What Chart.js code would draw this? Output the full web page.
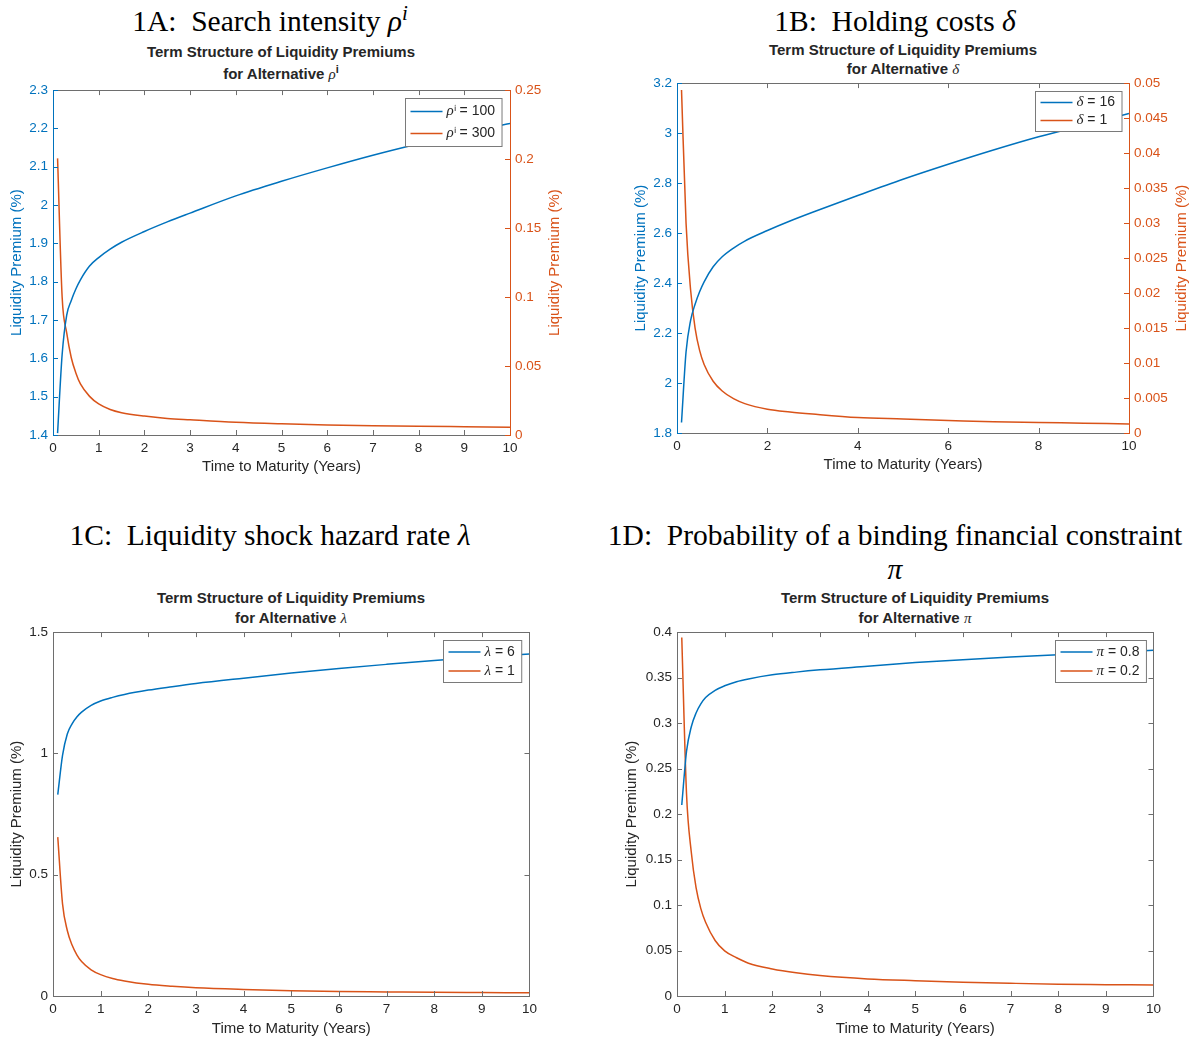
<!DOCTYPE html>
<html lang="en">
<head>
<meta charset="UTF-8">
<title>Term Structure of Liquidity Premiums</title>
<script src="https://cdn.jsdelivr.net/npm/chart.js@4"></script>
<style>
  body { margin: 0; width: 1196px; height: 1040px; position: relative; background: #fff; overflow: hidden;
         font-family: "Liberation Sans", Arial, sans-serif; }
  canvas { position: absolute; }
  .head { position: absolute; font-family: "Liberation Serif", "Times New Roman", serif; font-size: 29.5px;
          line-height: 34px; text-align: center; color: #000; white-space: nowrap; }
  .sub { position: absolute; width: 320px; font-weight: bold; font-size: 15px; text-align: center; color: #262626; white-space: nowrap; }
  .sym { font-family: "Liberation Serif", "Times New Roman", serif; font-style: italic; font-weight: normal; }
  .up { position: relative; font-size: 11px; top: -6px; }
</style>
</head>
<body>
  <!-- panel headings -->
  <div class="head" style="left:0; top:4px; width:540px">1A:&nbsp; Search intensity <i>ρ</i><i style="position:relative; top:-11px; font-size:21px">i</i></div>
  <div class="head" style="left:595px; top:4px; width:600px">1B:&nbsp; Holding costs <i>δ</i></div>
  <div class="head" style="left:0; top:518px; width:540px">1C:&nbsp; Liquidity shock hazard rate <i>λ</i></div>
  <div class="head" style="left:595px; top:518px; width:600px">1D:&nbsp; Probability of a binding financial constraint<br><i>π</i></div>

  <!-- chart titles -->
  <div class="sub" style="left:121px; top:41px; line-height:22px">Term Structure of Liquidity Premiums<br>for Alternative <span class="sym">ρ</span><span class="up">i</span></div>
  <div class="sub" style="left:743px; top:40px; line-height:19px">Term Structure of Liquidity Premiums<br>for Alternative <span class="sym">δ</span></div>
  <div class="sub" style="left:131px; top:588px; line-height:20px">Term Structure of Liquidity Premiums<br>for Alternative <span class="sym">λ</span></div>
  <div class="sub" style="left:755px; top:588px; line-height:20px">Term Structure of Liquidity Premiums<br>for Alternative <span class="sym">π</span></div>

  <canvas id="chartA" width="570" height="403" style="left:0; top:77px"></canvas>
  <canvas id="chartB" width="569" height="408" style="left:625px; top:70px"></canvas>
  <canvas id="chartC" width="542" height="421" style="left:0; top:619px"></canvas>
  <canvas id="chartD" width="551" height="421" style="left:615px; top:619px"></canvas>

<script>
// time to maturity (years), shared by every curve
const years = [0.1, 0.2, 0.3, 0.4, 0.5, 0.6, 0.8, 1, 1.25, 1.5, 2, 2.5, 3, 4, 5, 6, 7, 8, 9, 10];

// 1A: search intensity
const rho100 = [1.405, 1.61, 1.713, 1.751, 1.781, 1.805, 1.841, 1.863, 1.885, 1.903, 1.931, 1.956, 1.979, 2.024, 2.062, 2.097, 2.13, 2.16, 2.188, 2.213];
const rho300 = [0.2005, 0.100, 0.074, 0.056, 0.045, 0.037, 0.028, 0.0225, 0.0185, 0.0162, 0.0137, 0.012, 0.011, 0.0092, 0.0081, 0.0073, 0.0067, 0.0063, 0.006, 0.0057];

// 1B: holding costs
const delta16 = [1.842, 2.124, 2.25, 2.315, 2.365, 2.405, 2.465, 2.505, 2.54, 2.568, 2.61, 2.648, 2.683, 2.75, 2.815, 2.875, 2.932, 2.985, 3.032, 3.078];
const delta1 = [0.049, 0.030, 0.0205, 0.015, 0.0118, 0.0098, 0.0074, 0.006, 0.0049, 0.0042, 0.0034, 0.003, 0.0027, 0.0022, 0.002, 0.0018, 0.0016, 0.0015, 0.0014, 0.0013];

// 1C: liquidity shock hazard rate
const lambda6 = [0.83, 0.992, 1.08, 1.122, 1.15, 1.17, 1.198, 1.216, 1.231, 1.243, 1.261, 1.275, 1.288, 1.31, 1.331, 1.35, 1.367, 1.383, 1.397, 1.41];
const lambda1 = [0.655, 0.38, 0.27, 0.21, 0.17, 0.142, 0.108, 0.088, 0.072, 0.062, 0.048, 0.04, 0.034, 0.027, 0.022, 0.019, 0.017, 0.015, 0.014, 0.013];

// 1D: probability of a binding financial constraint
const pi08 = [0.21, 0.269, 0.296, 0.311, 0.321, 0.328, 0.336, 0.341, 0.3455, 0.3485, 0.353, 0.356, 0.3585, 0.3625, 0.3665, 0.3697, 0.3725, 0.375, 0.3775, 0.380];
const pi02 = [0.394, 0.222, 0.158, 0.119, 0.096, 0.081, 0.061, 0.0496, 0.042, 0.036, 0.0297, 0.0255, 0.0225, 0.0188, 0.0168, 0.0152, 0.014, 0.013, 0.0125, 0.012];

const blue = '#0072BD';
const orange = '#D95319';
const ink = '#262626';
const sans = '"Liberation Sans", Arial, sans-serif';

const pts = (ys) => years.map((x, i) => ({ x: x, y: ys[i] }));

// matlab style frame with inward ticks, plus the right axis title read bottom to top
const boxTicks = {
    id: 'boxTicks',
    afterDatasetsDraw(chart, args, opts) {
        const { ctx, chartArea: a, scales } = chart;
        const len = 5;
        const yl = scales.y;
        const yr = scales.y2 || scales.y;
        const line = (x1, y1, x2, y2) => { ctx.moveTo(x1, y1); ctx.lineTo(x2, y2); };
        ctx.save();
        ctx.lineWidth = 1;

        ctx.strokeStyle = opts.frame;
        ctx.beginPath();
        scales.x.ticks.forEach((t, i) => {
            const px = Math.round(scales.x.getPixelForTick(i)) + 0.5;
            line(px, a.bottom, px, a.bottom - len);
            line(px, a.top, px, a.top + len);
        });
        line(a.left, Math.round(a.top) + 0.5, a.right, Math.round(a.top) + 0.5);
        line(a.left, Math.round(a.bottom) + 0.5, a.right, Math.round(a.bottom) + 0.5);
        ctx.stroke();

        ctx.strokeStyle = opts.left;
        ctx.beginPath();
        yl.ticks.forEach((t, i) => {
            const py = Math.round(yl.getPixelForTick(i)) + 0.5;
            line(a.left, py, a.left + len, py);
        });
        line(Math.round(a.left) + 0.5, a.top, Math.round(a.left) + 0.5, a.bottom + 1);
        ctx.stroke();

        ctx.strokeStyle = opts.right;
        ctx.beginPath();
        yr.ticks.forEach((t, i) => {
            const py = Math.round(yr.getPixelForTick(i)) + 0.5;
            line(a.right, py, a.right - len, py);
        });
        line(Math.round(a.right) + 0.5, a.top, Math.round(a.right) + 0.5, a.bottom + 1);
        ctx.stroke();

        if (opts.rightTitle) {
            ctx.translate(chart.width - opts.rightPad - 9, (a.top + a.bottom) / 2);
            ctx.rotate(-Math.PI / 2);
            ctx.font = '15px ' + sans;
            ctx.fillStyle = opts.right;
            ctx.textAlign = 'center';
            ctx.textBaseline = 'middle';
            ctx.fillText(opts.rightTitle, 0, 0);
        }
        ctx.restore();
    }
};

// boxed legend inside the top right corner of the plot
const boxLegend = {
    id: 'boxLegend',
    afterDraw(chart, args, opts) {
        const { ctx, chartArea: a } = chart;
        const sets = chart.data.datasets;
        const rowH = opts.rowH, pad = 5, lineW = 32, gap = 4;
        const symFont = 'italic 15px "Liberation Serif", serif';
        const txtFont = '14px ' + sans;
        ctx.save();
        let textW = 0;
        sets.forEach(d => {
            ctx.font = symFont;
            let w = ctx.measureText(d.label[0]).width;
            ctx.font = txtFont;
            w += ctx.measureText(d.label.slice(1)).width;
            textW = Math.max(textW, w);
        });
        const w = pad + lineW + gap + textW + pad + 2;
        const h = rowH * sets.length + 4;
        const x0 = Math.round(a.right - 8 - w) + 0.5;
        const y0 = Math.round(a.top + 8) + 0.5;
        ctx.fillStyle = '#fff';
        ctx.fillRect(x0, y0, w, h);
        ctx.strokeStyle = '#7a7a7a';
        ctx.lineWidth = 1;
        ctx.strokeRect(x0, y0, w, h);
        ctx.textBaseline = 'middle';
        sets.forEach((d, i) => {
            const cy = y0 + 2 + rowH * (i + 0.5);
            ctx.strokeStyle = d.borderColor;
            ctx.lineWidth = 1.5;
            ctx.beginPath();
            ctx.moveTo(x0 + pad, cy);
            ctx.lineTo(x0 + pad + lineW, cy);
            ctx.stroke();
            ctx.fillStyle = ink;
            let tx = x0 + pad + lineW + gap;
            ctx.font = symFont;
            ctx.fillText(d.label[0], tx, cy);
            tx += ctx.measureText(d.label[0]).width;
            ctx.font = txtFont;
            ctx.fillText(d.label.slice(1), tx, cy);
        });
        ctx.restore();
    }
};

const tickFont = { family: sans, size: 13.5 };
const titleFont = { family: sans, size: 15 };
const plain = (v) => String(Number(v.toFixed(6)));

function xAxis(step, height, titlePad) {
    return {
        type: 'linear', min: 0, max: 10,
        ticks: { stepSize: step, color: ink, font: tickFont, padding: 5, callback: plain },
        grid: { display: false, drawTicks: false },
        border: { display: false },
        title: { display: true, text: 'Time to Maturity (Years)', color: ink, font: titleFont, padding: { top: 0, bottom: titlePad } },
        afterFit: (s) => { s.height = height; }
    };
}

function yAxis(pos, min, max, step, color, width, titlePad) {
    return {
        position: pos, min: min, max: max,
        ticks: { stepSize: step, color: color, font: tickFont, padding: 5, callback: plain },
        grid: { display: false, drawTicks: false },
        border: { display: false },
        title: { display: pos === 'left', text: 'Liquidity Premium (%)', color: color, font: titleFont, padding: { top: titlePad, bottom: 0 } },
        afterFit: (s) => { s.width = width; }
    };
}

function line(label, data, color, axis) {
    return {
        label: label, data: pts(data), borderColor: color, backgroundColor: color,
        borderWidth: 1.5, pointRadius: 0, cubicInterpolationMode: 'monotone', yAxisID: axis
    };
}

function makeChart(id, datasets, scales, frame, rowH, padRight) {
    new Chart(document.getElementById(id), {
        type: 'line',
        data: { datasets: datasets },
        options: {
            responsive: false,
            animation: false,
            layout: { padding: { top: 10, right: padRight, bottom: 0, left: 0 } },
            plugins: {
                legend: { display: false },
                tooltip: { enabled: false },
                boxTicks: frame,
                boxLegend: { rowH: rowH }
            },
            scales: scales
        },
        plugins: [boxTicks, boxLegend]
    });
}

makeChart('chartA',
    [line('ρⁱ = 100', rho100, blue, 'y'), line('ρⁱ = 300', rho300, orange, 'y2')],
    { x: xAxis(1, 45, 4), y: yAxis('left', 1.4, 2.3, 0.1, blue, 53, 8), y2: yAxis('right', 0, 0.25, 0.05, orange, 60, 0) },
    { frame: '#6e6e6e', left: blue, right: orange, rightTitle: 'Liquidity Premium (%)', rightPad: 6 }, 22, 0);

makeChart('chartB',
    [line('δ = 16', delta16, blue, 'y'), line('δ = 1', delta1, orange, 'y2')],
    { x: xAxis(2, 45, 4), y: yAxis('left', 1.8, 3.2, 0.2, blue, 52, 7), y2: yAxis('right', 0, 0.05, 0.005, orange, 65, 0) },
    { frame: '#6e6e6e', left: blue, right: orange, rightTitle: 'Liquidity Premium (%)', rightPad: 3 }, 18, 0);

makeChart('chartC',
    [line('λ = 6', lambda6, blue, 'y'), line('λ = 1', lambda1, orange, 'y')],
    { x: xAxis(1, 44, 2), y: yAxis('left', 0, 1.5, 0.5, ink, 53, 8) },
    { frame: '#6e6e6e', left: '#6e6e6e', right: '#6e6e6e' }, 19, 12);

makeChart('chartD',
    [line('π = 0.8', pi08, blue, 'y'), line('π = 0.2', pi02, orange, 'y')],
    { x: xAxis(1, 44, 2), y: yAxis('left', 0, 0.4, 0.05, ink, 62, 8) },
    { frame: '#6e6e6e', left: '#6e6e6e', right: '#6e6e6e' }, 19, 12);
</script>
</body>
</html>
